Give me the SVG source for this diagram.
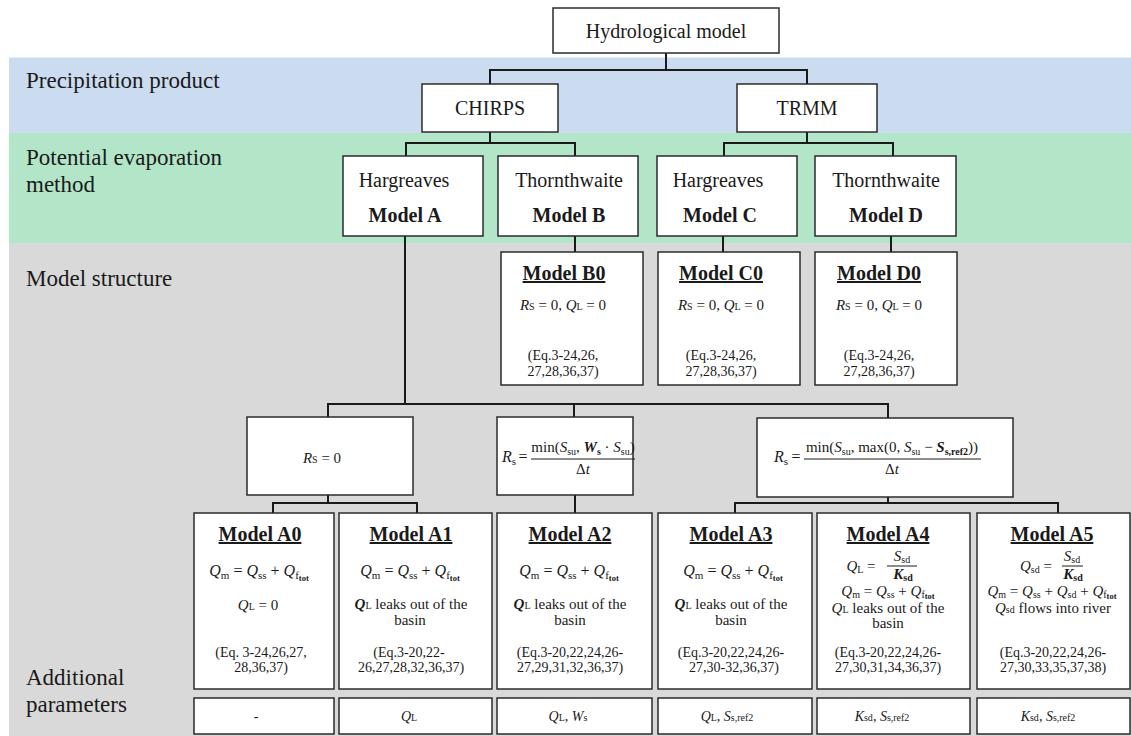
<svg xmlns="http://www.w3.org/2000/svg" width="1131" height="736" viewBox="0 0 1131 736">
<style>
.box{fill:#fff;stroke:#2b2b2b;stroke-width:1.5}
.conn path{stroke:#1a1a1a;stroke-width:2;fill:none;stroke-linecap:square}
text{font-family:"Liberation Serif","Times New Roman",serif;fill:#1a1a1a}
.lbl{font-size:23px}
.nd{font-size:20px;text-anchor:middle}
.nb{font-size:20px;font-weight:bold;text-anchor:middle}
.ttl{font-size:20px;font-weight:bold;text-anchor:middle;text-decoration:underline}
.s14{font-size:14px;text-anchor:middle}
.s15{font-size:15px;text-anchor:middle}
.m{font-size:16px;text-anchor:middle}
.mf{font-size:15px;text-anchor:middle}
.i{font-style:italic}
.b{font-weight:bold}
.sb{font-size:11px}
.ssb{font-size:8.5px;font-weight:bold}
.sm{font-size:10px}
</style>
<g id="bands">
<rect x="9" y="57.5" width="1122" height="75.5" fill="#ccdcf0"/>
<rect x="9" y="133" width="1122" height="110" fill="#b3e5c8"/>
<rect x="9" y="243" width="1122" height="493" fill="#d9d9d9"/>
</g>
<g id="labels">
<text class="lbl" x="26" y="88">Precipitation product</text>
<text class="lbl" x="26" y="165">Potential evaporation</text>
<text class="lbl" x="26" y="192">method</text>
<text class="lbl" x="26" y="286">Model structure</text>
<text class="lbl" x="26" y="685">Additional</text>
<text class="lbl" x="26" y="712">parameters</text>
</g>
<g class="conn" id="connectors">
<path d="M666,53 V70 M490,70 H807 M490,70 V84 M807,70 V84"/>
<path d="M490,132 V143 M406,143 H575 M406,143 V156 M575,143 V156"/>
<path d="M807,132 V143 M724,143 H893 M724,143 V156 M893,143 V156"/>
<path d="M575,236 V252 M723,236 V252 M891,236 V252"/>
<path d="M405,236 V404 M328,404 H888 M328,404 V417 M574,404 V417 M888,404 V418"/>
<path d="M328,495 V503 M273,503 H417 M273,503 V513 M417,503 V513"/>
<path d="M575,495 V513"/>
<path d="M888,497 V503 M735,503 H1058 M735,503 V513 M1058,503 V513"/>
</g>
<g id="hydro"><rect class="box" x="553" y="8" width="226" height="45"/><text class="nd" x="666" y="38">Hydrological model</text></g>
<g id="chirps"><rect class="box" x="422" y="84" width="136" height="48"/><text class="nd" x="490" y="115">CHIRPS</text></g>
<g id="trmm"><rect class="box" x="737" y="84" width="140" height="48"/><text class="nd" x="807" y="115">TRMM</text></g>
<g id="modelA"><rect class="box" x="343" y="156" width="140" height="80"/><text class="nd" x="404" y="187">Hargreaves</text><text class="nb" x="405" y="222">Model A</text></g>
<g id="modelB"><rect class="box" x="498" y="156" width="140" height="80"/><text class="nd" x="569" y="187">Thornthwaite</text><text class="nb" x="569" y="222">Model B</text></g>
<g id="modelC"><rect class="box" x="657" y="156" width="140" height="80"/><text class="nd" x="718" y="187">Hargreaves</text><text class="nb" x="720" y="222">Model C</text></g>
<g id="modelD"><rect class="box" x="815" y="156" width="141" height="80"/><text class="nd" x="886" y="187">Thornthwaite</text><text class="nb" x="886" y="222">Model D</text></g>
<g id="modelB0"><rect class="box" x="501" y="252" width="142" height="133"/>
<text class="ttl" x="564" y="280">Model B0</text>
<text class="s15" x="563" y="310"><tspan class="i">R</tspan><tspan class="sm">S</tspan> = 0, <tspan class="i">Q</tspan><tspan class="sm">L</tspan> = 0</text>
<text class="s14" x="563" y="360">(Eq.3-24,26,</text><text class="s14" x="563" y="376">27,28,36,37)</text></g>
<g id="modelC0"><rect class="box" x="658" y="252" width="142" height="133"/>
<text class="ttl" x="721" y="280">Model C0</text>
<text class="s15" x="721" y="310"><tspan class="i">R</tspan><tspan class="sm">S</tspan> = 0, <tspan class="i">Q</tspan><tspan class="sm">L</tspan> = 0</text>
<text class="s14" x="721" y="360">(Eq.3-24,26,</text><text class="s14" x="721" y="376">27,28,36,37)</text></g>
<g id="modelD0"><rect class="box" x="815" y="252" width="142" height="133"/>
<text class="ttl" x="879" y="280">Model D0</text>
<text class="s15" x="879" y="310"><tspan class="i">R</tspan><tspan class="sm">S</tspan> = 0, <tspan class="i">Q</tspan><tspan class="sm">L</tspan> = 0</text>
<text class="s14" x="879" y="360">(Eq.3-24,26,</text><text class="s14" x="879" y="376">27,28,36,37)</text></g>
<g id="rs0"><rect class="box" x="247" y="417" width="166" height="78"/>
<text class="s15" x="322" y="463"><tspan class="i">R</tspan><tspan class="sm">S</tspan> = 0</text></g>
<g id="rsmin"><rect class="box" x="497" y="417" width="136" height="78"/>
<text class="m" x="509" y="462"><tspan class="i">R</tspan><tspan class="sb" dy="3">s</tspan></text>
<text class="m" x="523" y="462">=</text>
<path d="M531,459 H635" stroke="#1a1a1a" stroke-width="1"/>
<text class="mf" x="583" y="452">min(<tspan class="i">S</tspan><tspan class="sm" dy="3">su</tspan><tspan dy="-3">, </tspan><tspan class="i b">W</tspan><tspan class="sm b" dy="3">s</tspan><tspan dy="-3"> · </tspan><tspan class="i">S</tspan><tspan class="sm" dy="3">su</tspan><tspan dy="-3">)</tspan></text>
<text class="mf" x="583" y="474">Δ<tspan class="i">t</tspan></text></g>
<g id="rsmax"><rect class="box" x="757" y="418" width="256" height="79"/>
<text class="m" x="781" y="462"><tspan class="i">R</tspan><tspan class="sb" dy="3">s</tspan></text>
<text class="m" x="796" y="462">=</text>
<path d="M804,459 H981" stroke="#1a1a1a" stroke-width="1"/>
<text class="mf" x="892" y="452">min(<tspan class="i">S</tspan><tspan class="sm" dy="3">su</tspan><tspan dy="-3">, max(0, </tspan><tspan class="i">S</tspan><tspan class="sm" dy="3">su</tspan><tspan dy="-3"> − </tspan><tspan class="i b">S</tspan><tspan class="sm b" dy="3">s,ref2</tspan><tspan dy="-3">))</tspan></text>
<text class="mf" x="892" y="474">Δ<tspan class="i">t</tspan></text></g>
<g id="modelA0"><rect class="box" x="194" y="513" width="140" height="176"/>
<text class="ttl" x="260" y="541">Model A0</text>
<text class="m" x="259" y="576"><tspan class="i">Q</tspan><tspan class="sb" dy="3">m</tspan><tspan dy="-3"> = </tspan><tspan class="i">Q</tspan><tspan class="sb" dy="3">ss</tspan><tspan dy="-3"> + </tspan><tspan class="i">Q</tspan><tspan class="sb" dy="3">f</tspan><tspan class="ssb" dy="2">tot</tspan></text>
<text class="s15" x="258" y="610"><tspan class="i">Q</tspan><tspan class="sm">L</tspan> = 0</text>
<text class="s14" x="261" y="657">(Eq. 3-24,26,27,</text><text class="s14" x="261" y="672">28,36,37)</text></g>
<g id="modelA1"><rect class="box" x="339" y="513" width="153" height="176"/>
<text class="ttl" x="411" y="541">Model A1</text>
<text class="m" x="410" y="576"><tspan class="i">Q</tspan><tspan class="sb" dy="3">m</tspan><tspan dy="-3"> = </tspan><tspan class="i">Q</tspan><tspan class="sb" dy="3">ss</tspan><tspan dy="-3"> + </tspan><tspan class="i">Q</tspan><tspan class="sb" dy="3">f</tspan><tspan class="ssb" dy="2">tot</tspan></text>
<text class="s15" x="411" y="609"><tspan class="i b">Q</tspan><tspan class="sm">L</tspan> leaks out of the</text>
<text class="s15" x="410" y="625">basin</text>
<text class="s14" x="409" y="657">(Eq.3-20,22-</text><text class="s14" x="411" y="672">26,27,28,32,36,37)</text></g>
<g id="modelA2"><rect class="box" x="497" y="513" width="155" height="176"/>
<text class="ttl" x="570" y="541">Model A2</text>
<text class="m" x="569" y="576"><tspan class="i">Q</tspan><tspan class="sb" dy="3">m</tspan><tspan dy="-3"> = </tspan><tspan class="i">Q</tspan><tspan class="sb" dy="3">ss</tspan><tspan dy="-3"> + </tspan><tspan class="i">Q</tspan><tspan class="sb" dy="3">f</tspan><tspan class="ssb" dy="2">tot</tspan></text>
<text class="s15" x="570" y="609"><tspan class="i b">Q</tspan><tspan class="sm">L</tspan> leaks out of the</text>
<text class="s15" x="570" y="625">basin</text>
<text class="s14" x="570" y="657">(Eq.3-20,22,24,26-</text><text class="s14" x="570" y="672">27,29,31,32,36,37)</text></g>
<g id="modelA3"><rect class="box" x="658" y="513" width="154" height="176"/>
<text class="ttl" x="731" y="541">Model A3</text>
<text class="m" x="733" y="576"><tspan class="i">Q</tspan><tspan class="sb" dy="3">m</tspan><tspan dy="-3"> = </tspan><tspan class="i">Q</tspan><tspan class="sb" dy="3">ss</tspan><tspan dy="-3"> + </tspan><tspan class="i">Q</tspan><tspan class="sb" dy="3">f</tspan><tspan class="ssb" dy="2">tot</tspan></text>
<text class="s15" x="731" y="609"><tspan class="i b">Q</tspan><tspan class="sm">L</tspan> leaks out of the</text>
<text class="s15" x="731" y="625">basin</text>
<text class="s14" x="731" y="657">(Eq.3-20,22,24,26-</text><text class="s14" x="734" y="672">27,30-32,36,37)</text></g>
<g id="modelA4"><rect class="box" x="817" y="513" width="153" height="176"/>
<text class="ttl" x="888" y="541">Model A4</text>
<text class="mf" x="861" y="571"><tspan class="i">Q</tspan><tspan class="sm" dy="2">L</tspan><tspan dy="-2"> =</tspan></text>
<path d="M887,566 H917" stroke="#1a1a1a" stroke-width="1"/>
<text class="mf" x="902" y="561"><tspan class="i">S</tspan><tspan class="sm" dy="2">sd</tspan></text>
<text class="mf" x="903" y="579"><tspan class="i b">K</tspan><tspan class="sm b" dy="2">sd</tspan></text>
<text class="mf" x="888" y="596"><tspan class="i">Q</tspan><tspan class="sm" dy="2">m</tspan><tspan dy="-2"> = </tspan><tspan class="i">Q</tspan><tspan class="sm" dy="2">ss</tspan><tspan dy="-2"> + </tspan><tspan class="i">Q</tspan><tspan class="sm" dy="2">f</tspan><tspan class="ssb" dy="1">tot</tspan></text>
<text class="s15" x="888" y="613"><tspan class="i">Q</tspan><tspan class="sm">L</tspan> leaks out of the</text>
<text class="s15" x="888" y="628">basin</text>
<text class="s14" x="888" y="657">(Eq.3-20,22,24,26-</text><text class="s14" x="888" y="672">27,30,31,34,36,37)</text></g>
<g id="modelA5"><rect class="box" x="977" y="513" width="153" height="176"/>
<text class="ttl" x="1052" y="541">Model A5</text>
<text class="mf" x="1036" y="571"><tspan class="i">Q</tspan><tspan class="sm" dy="2">sd</tspan><tspan dy="-2"> =</tspan></text>
<path d="M1062,566 H1083" stroke="#1a1a1a" stroke-width="1"/>
<text class="mf" x="1072" y="561"><tspan class="i">S</tspan><tspan class="sm" dy="2">sd</tspan></text>
<text class="mf" x="1073" y="579"><tspan class="i b">K</tspan><tspan class="sm b" dy="2">sd</tspan></text>
<text class="mf" x="1052" y="596"><tspan class="i">Q</tspan><tspan class="sm" dy="2">m</tspan><tspan dy="-2"> = </tspan><tspan class="i">Q</tspan><tspan class="sm" dy="2">ss</tspan><tspan dy="-2"> + </tspan><tspan class="i">Q</tspan><tspan class="sm" dy="2">sd</tspan><tspan dy="-2"> + </tspan><tspan class="i">Q</tspan><tspan class="sm" dy="2">f</tspan><tspan class="ssb" dy="1">tot</tspan></text>
<text class="s15" x="1053" y="613"><tspan class="i">Q</tspan><tspan class="sm">sd</tspan> flows into river</text>
<text class="s14" x="1053" y="657">(Eq.3-20,22,24,26-</text><text class="s14" x="1053" y="672">27,30,33,35,37,38)</text></g>
<g id="paramA0"><rect class="box" x="194" y="698" width="140" height="36"/><text class="s14" x="256" y="721">-</text></g>
<g id="paramA1"><rect class="box" x="339" y="698" width="153" height="36"/><text class="s14" x="409" y="721"><tspan class="i">Q</tspan><tspan class="sm">L</tspan></text></g>
<g id="paramA2"><rect class="box" x="497" y="698" width="155" height="36"/><text class="s14" x="568" y="721"><tspan class="i">Q</tspan><tspan class="sm">L</tspan>, <tspan class="i">W</tspan><tspan class="sm">s</tspan></text></g>
<g id="paramA3"><rect class="box" x="658" y="698" width="154" height="36"/><text class="s14" x="727" y="721"><tspan class="i">Q</tspan><tspan class="sm">L</tspan>, <tspan class="i">S</tspan><tspan class="sm">s,ref2</tspan></text></g>
<g id="paramA4"><rect class="box" x="817" y="698" width="153" height="36"/><text class="s14" x="882" y="721"><tspan class="i">K</tspan><tspan class="sm">sd</tspan>, <tspan class="i">S</tspan><tspan class="sm">s,ref2</tspan></text></g>
<g id="paramA5"><rect class="box" x="977" y="698" width="153" height="36"/><text class="s14" x="1048" y="721"><tspan class="i">K</tspan><tspan class="sm">sd</tspan>, <tspan class="i">S</tspan><tspan class="sm">s,ref2</tspan></text></g>
</svg>
